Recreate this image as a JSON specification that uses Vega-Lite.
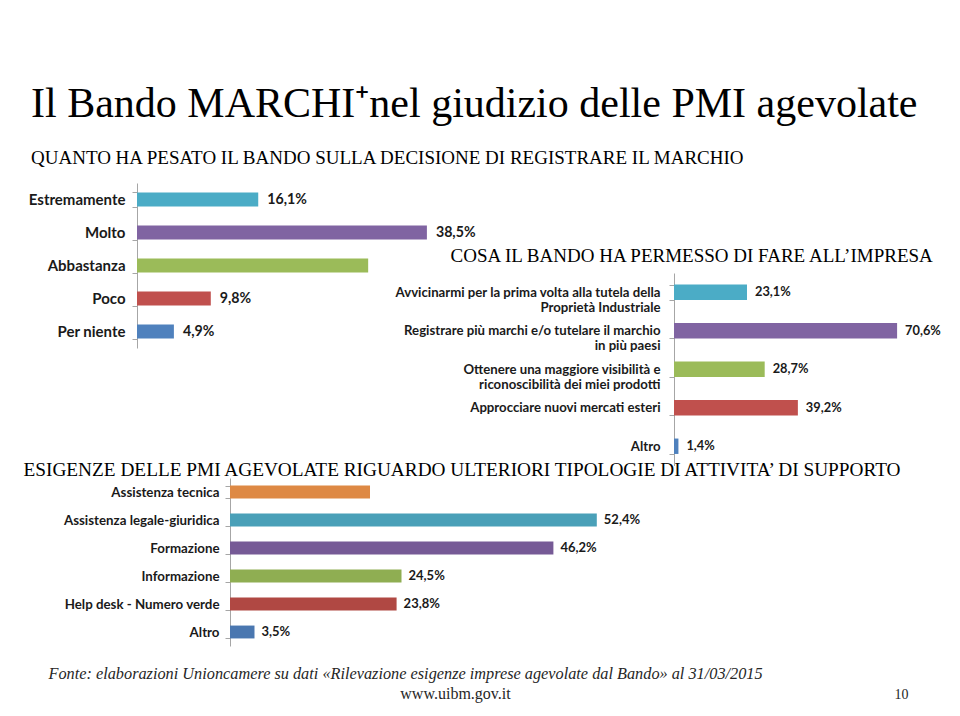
{
  "$schema": "https://vega.github.io/schema/vega-lite/v6.json",
  "width": 960,
  "height": 716,
  "autosize": "none",
  "padding": 0,
  "background": "white",
  "title": {
    "text": "Il Bando MARCHI⁺nel giudizio delle PMI agevolate",
    "subtitle": "QUANTO HA PESATO IL BANDO SULLA DECISIONE DI REGISTRARE IL MARCHIO",
    "anchor": "start",
    "frame": "group",
    "orient": "top",
    "offset": -176,
    "dx": 31,
    "font": "Liberation Serif",
    "fontSize": 42,
    "fontWeight": "normal",
    "color": "#000000",
    "subtitleFont": "Liberation Serif",
    "subtitleFontSize": 19,
    "subtitleColor": "#000000",
    "subtitlePadding": 23
  },
  "config": {
    "view": {"stroke": null},
    "axis": {"grid": false}
  },
  "resolve": {
    "scale": {"x": "independent", "y": "independent", "color": "independent"},
    "axis": {"x": "independent", "y": "independent"}
  },
  "layer": [
    {
      "data": {"values": [
        {"risposta": "Estremamente", "quota": 16.1, "etichetta": "16,1%"},
        {"risposta": "Molto", "quota": 38.5, "etichetta": "38,5%"},
        {"risposta": "Abbastanza", "quota": 30.7, "etichetta": ""},
        {"risposta": "Poco", "quota": 9.8, "etichetta": "9,8%"},
        {"risposta": "Per niente", "quota": 4.9, "etichetta": "4,9%"}
      ]},
      "encoding": {
        "y": {
          "field": "risposta", "type": "nominal", "sort": null,
          "scale": {"range": [183, 348], "paddingInner": 0.57, "paddingOuter": 0.285},
          "axis": {
            "orient": "left", "offset": -137, "title": null,
            "domainColor": "#a6a6a6", "tickColor": "#a6a6a6", "tickSize": 5, "tickBand": "extent",
            "labelFont": "Lato", "labelFontSize": 15, "labelFontWeight": "bold", "labelColor": "#1a1a1a", "labelPadding": 7
          }
        },
        "x": {
          "field": "quota", "type": "quantitative",
          "scale": {"domain": [0, 40], "range": [137, 438.2]},
          "axis": {
            "orient": "bottom", "labels": false, "ticks": false, "domain": false,
            "title": "Fonte: elaborazioni Unioncamere su dati  «Rilevazione esigenze imprese agevolate dal Bando»  al 31/03/2015",
            "titleX": 48, "titleY": -38, "titleAlign": "left", "titleAnchor": null, "titleBaseline": "alphabetic",
            "titleFont": "Liberation Serif", "titleFontSize": 16.3, "titleFontStyle": "italic", "titleFontWeight": "normal", "titleColor": "#262626"
          }
        }
      },
      "layer": [
        {
          "mark": {"type": "bar"},
          "encoding": {
            "color": {
              "field": "risposta", "type": "nominal", "legend": null,
              "scale": {"domain": ["Estremamente", "Molto", "Abbastanza", "Poco", "Per niente"],
                        "range": ["#4bacc6", "#8064a2", "#9bbb59", "#c0504d", "#4f81bd"]}
            }
          }
        },
        {
          "mark": {"type": "text", "align": "left", "baseline": "middle", "dx": 9, "font": "Lato", "fontSize": 14.2, "fontWeight": "bold", "color": "#1a1a1a"},
          "encoding": {"text": {"field": "etichetta"}}
        }
      ]
    },
    {
      "data": {"values": [
        {"effetto": "Avvicinarmi per la prima volta alla tutela della\nProprietà Industriale", "quota": 23.1, "etichetta": "23,1%"},
        {"effetto": "Registrare più marchi e/o tutelare il marchio\nin più paesi", "quota": 70.6, "etichetta": "70,6%"},
        {"effetto": "Ottenere una maggiore visibilità e\nriconoscibilità dei miei prodotti", "quota": 28.7, "etichetta": "28,7%"},
        {"effetto": "Approcciare nuovi mercati esteri", "quota": 39.2, "etichetta": "39,2%"},
        {"effetto": "Altro", "quota": 1.4, "etichetta": "1,4%"}
      ]},
      "encoding": {
        "y": {
          "field": "effetto", "type": "nominal", "sort": null,
          "scale": {"range": [273, 465.5], "paddingInner": 0.6, "paddingOuter": 0.3},
          "axis": {
            "orient": "left", "offset": -674,
            "domainColor": "#a6a6a6", "tickColor": "#a6a6a6", "tickSize": 5, "tickBand": "extent",
            "labelFont": "Lato", "labelFontSize": 13.2, "labelFontWeight": "bold", "labelColor": "#1a1a1a", "labelPadding": 9,
            "labelExpr": "split(datum.label, '\\n')", "labelLineHeight": 15, "labelLimit": 400,
            "title": "www.uibm.gov.it",
            "titleAngle": 0, "titleX": -219, "titleY": 698, "titleAlign": "center", "titleAnchor": null, "titleBaseline": "alphabetic",
            "titleFont": "Liberation Serif", "titleFontSize": 16, "titleFontWeight": "normal", "titleColor": "#262626"
          }
        },
        "x": {
          "field": "quota", "type": "quantitative",
          "scale": {"domain": [0, 80], "range": [674, 926.8]},
          "axis": {
            "orient": "top", "labels": false, "ticks": false, "domain": false,
            "title": "COSA IL BANDO HA PERMESSO DI FARE ALL’IMPRESA",
            "titleX": 450, "titleY": 261, "titleAlign": "left", "titleAnchor": null, "titleBaseline": "alphabetic",
            "titleFont": "Liberation Serif", "titleFontSize": 19, "titleFontWeight": "normal", "titleColor": "#000000"
          }
        }
      },
      "layer": [
        {
          "mark": {"type": "bar"},
          "encoding": {
            "color": {
              "field": "effetto", "type": "nominal", "legend": null,
              "scale": {"domain": [
                "Avvicinarmi per la prima volta alla tutela della\nProprietà Industriale",
                "Registrare più marchi e/o tutelare il marchio\nin più paesi",
                "Ottenere una maggiore visibilità e\nriconoscibilità dei miei prodotti",
                "Approcciare nuovi mercati esteri",
                "Altro"],
                "range": ["#4bacc6", "#8064a2", "#9bbb59", "#c0504d", "#4f81bd"]}
            }
          }
        },
        {
          "mark": {"type": "text", "align": "left", "baseline": "middle", "dx": 8, "font": "Lato", "fontSize": 12.8, "fontWeight": "bold", "color": "#1a1a1a"},
          "encoding": {"text": {"field": "etichetta"}}
        }
      ]
    },
    {
      "data": {"values": [
        {"esigenza": "Assistenza tecnica", "quota": 20.0, "etichetta": ""},
        {"esigenza": "Assistenza legale-giuridica", "quota": 52.4, "etichetta": "52,4%"},
        {"esigenza": "Formazione", "quota": 46.2, "etichetta": "46,2%"},
        {"esigenza": "Informazione", "quota": 24.5, "etichetta": "24,5%"},
        {"esigenza": "Help desk - Numero verde", "quota": 23.8, "etichetta": "23,8%"},
        {"esigenza": "Altro", "quota": 3.5, "etichetta": "3,5%"}
      ]},
      "encoding": {
        "y": {
          "field": "esigenza", "type": "nominal", "sort": null,
          "scale": {"range": [478, 646], "paddingInner": 0.54, "paddingOuter": 0.27},
          "axis": {
            "orient": "left", "offset": -230,
            "domainColor": "#a6a6a6", "tickColor": "#a6a6a6", "tickSize": 5, "tickBand": "extent",
            "labelFont": "Lato", "labelFontSize": 13.3, "labelFontWeight": "bold", "labelColor": "#1a1a1a", "labelPadding": 6,
            "title": "10",
            "titleAngle": 0, "titleX": 671, "titleY": 698, "titleAlign": "center", "titleAnchor": null, "titleBaseline": "alphabetic",
            "titleFont": "Liberation Serif", "titleFontSize": 14, "titleFontWeight": "normal", "titleColor": "#262626"
          }
        },
        "x": {
          "field": "quota", "type": "quantitative",
          "scale": {"domain": [0, 60], "range": [230, 650]},
          "axis": {
            "orient": "top", "labels": false, "ticks": false, "domain": false,
            "title": "ESIGENZE DELLE PMI AGEVOLATE RIGUARDO ULTERIORI TIPOLOGIE DI ATTIVITA’ DI SUPPORTO",
            "titleX": 23, "titleY": 475, "titleAlign": "left", "titleAnchor": null, "titleBaseline": "alphabetic",
            "titleFont": "Liberation Serif", "titleFontSize": 19.3, "titleFontWeight": "normal", "titleColor": "#000000"
          }
        }
      },
      "layer": [
        {
          "mark": {"type": "bar"},
          "encoding": {
            "color": {
              "field": "esigenza", "type": "nominal", "legend": null,
              "scale": {"domain": ["Assistenza tecnica", "Assistenza legale-giuridica", "Formazione", "Informazione", "Help desk - Numero verde", "Altro"],
                        "range": ["#de8944", "#4aa0b8", "#765a96", "#8fae52", "#b04843", "#4a77b0"]}
            }
          }
        },
        {
          "mark": {"type": "text", "align": "left", "baseline": "middle", "dx": 7, "font": "Lato", "fontSize": 13, "fontWeight": "bold", "color": "#1a1a1a"},
          "encoding": {"text": {"field": "etichetta"}}
        }
      ]
    }
  ]
}
